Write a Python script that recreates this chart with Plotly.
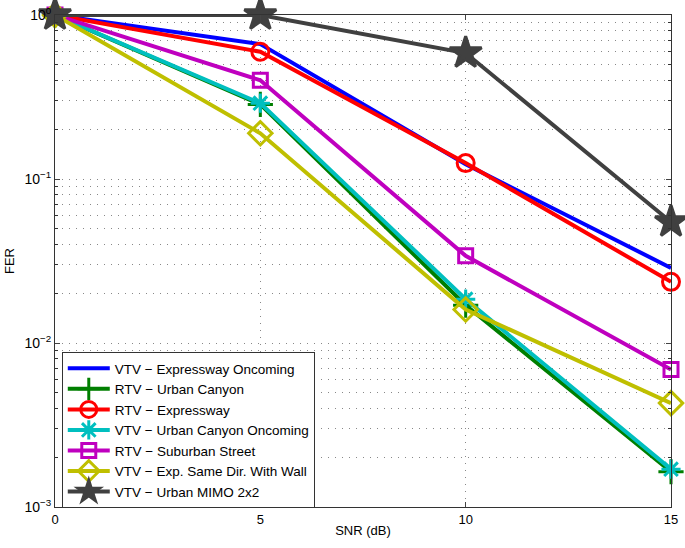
import plotly.graph_objects as go

snr = [0, 5, 10, 15]
names = ["VTV − Expressway Oncoming", "RTV − Urban Canyon", "RTV − Expressway",
         "VTV − Urban Canyon Oncoming", "RTV − Suburban Street",
         "VTV − Exp. Same Dir. With Wall", "VTV − Urban MIMO 2x2"]
vtv_exp_onc = [1.0, 0.665, 0.123, 0.0287]
rtv_urban_canyon = [1.0, 0.285, 0.0170, 0.00164]
rtv_expressway = [1.0, 0.597, 0.125, 0.0236]
vtv_urban_canyon_onc = [1.0, 0.290, 0.0185, 0.00170]
rtv_suburban = [1.0, 0.40, 0.034, 0.0069]
vtv_same_dir_wall = [1.0, 0.19, 0.016, 0.0043]
vtv_mimo = [1.0, 1.0, 0.586, 0.0547]

y_tickvals = [0.001, 0.01, 0.1, 1]
y_ticktext = ["10<sup>−3</sup>", "10<sup>−2</sup>", "10<sup>−1</sup>", "10<sup>0</sup>"]
y_minor_vals = [m * d for d in (0.001, 0.01, 0.1) for m in range(2, 10)]

series = [vtv_exp_onc, rtv_urban_canyon, rtv_expressway, vtv_urban_canyon_onc,
          rtv_suburban, vtv_same_dir_wall, vtv_mimo]
colors = ["#0000FF", "#007F00", "#FF0000", "#00BFBF", "#BF00BF", "#BFBF00", "#404040"]
symbols = [None, "cross-thin-open", "circle-open", "asterisk-open", "square-open",
           "diamond-open", "star"]
sizes = [0, 18, 17, 16, 14, 18, 24]

fig = go.Figure()
for name, y, c, s, sz in zip(names, series, colors, symbols, sizes):
    if s is None:
        fig.add_trace(go.Scatter(x=snr, y=y, name=name, mode="lines",
                                 line=dict(color=c, width=4), cliponaxis=False))
    else:
        fig.add_trace(go.Scatter(x=snr, y=y, name=name, mode="lines+markers",
                                 line=dict(color=c, width=4), cliponaxis=False,
                                 marker=dict(symbol=s, size=sz, color=c,
                                             line=dict(color=c, width=3))))

grid_dash = "1px,6px"
fig.update_layout(
    width=685, height=548,
    margin=dict(l=55, r=14, t=15, b=41),
    paper_bgcolor="white", plot_bgcolor="white",
    font=dict(family="Liberation Sans, Arial, sans-serif", size=13, color="black"),
    showlegend=True,
    legend=dict(x=0.011, y=0.315, xanchor="left", yanchor="top",
                bgcolor="white", bordercolor="#333333", borderwidth=1,
                font=dict(size=13.5), tracegroupgap=0, itemwidth=42),
)
fig.update_xaxes(
    range=[0, 15], tickvals=[0, 5, 10, 15], ticks="inside", ticklen=5,
    showline=True, linecolor="#333333", linewidth=1, mirror="ticks",
    showgrid=True, gridcolor="#888888", griddash=grid_dash, gridwidth=1,
    zeroline=False, automargin=False,
    title=dict(text="SNR (dB)", font=dict(size=13), standoff=0),
    tickfont=dict(size=13),
)
fig.update_yaxes(
    type="log", range=[-3, 0], tickvals=y_tickvals, ticktext=y_ticktext,
    ticks="inside", ticklen=5, showline=True, linecolor="#333333", linewidth=1,
    mirror="ticks",
    showgrid=True, gridcolor="#888888", griddash=grid_dash, gridwidth=1,
    minor=dict(tickvals=y_minor_vals, ticks="inside", ticklen=3, showgrid=True,
               gridcolor="#888888", griddash=grid_dash, tickcolor="#333333"),
    zeroline=False, automargin=False,
    title=dict(text="FER", font=dict(size=13), standoff=6),
    tickfont=dict(size=14),
)

fig.write_html("out.html", config={"displayModeBar": False},
               post_script="document.body.style.margin='0';")
